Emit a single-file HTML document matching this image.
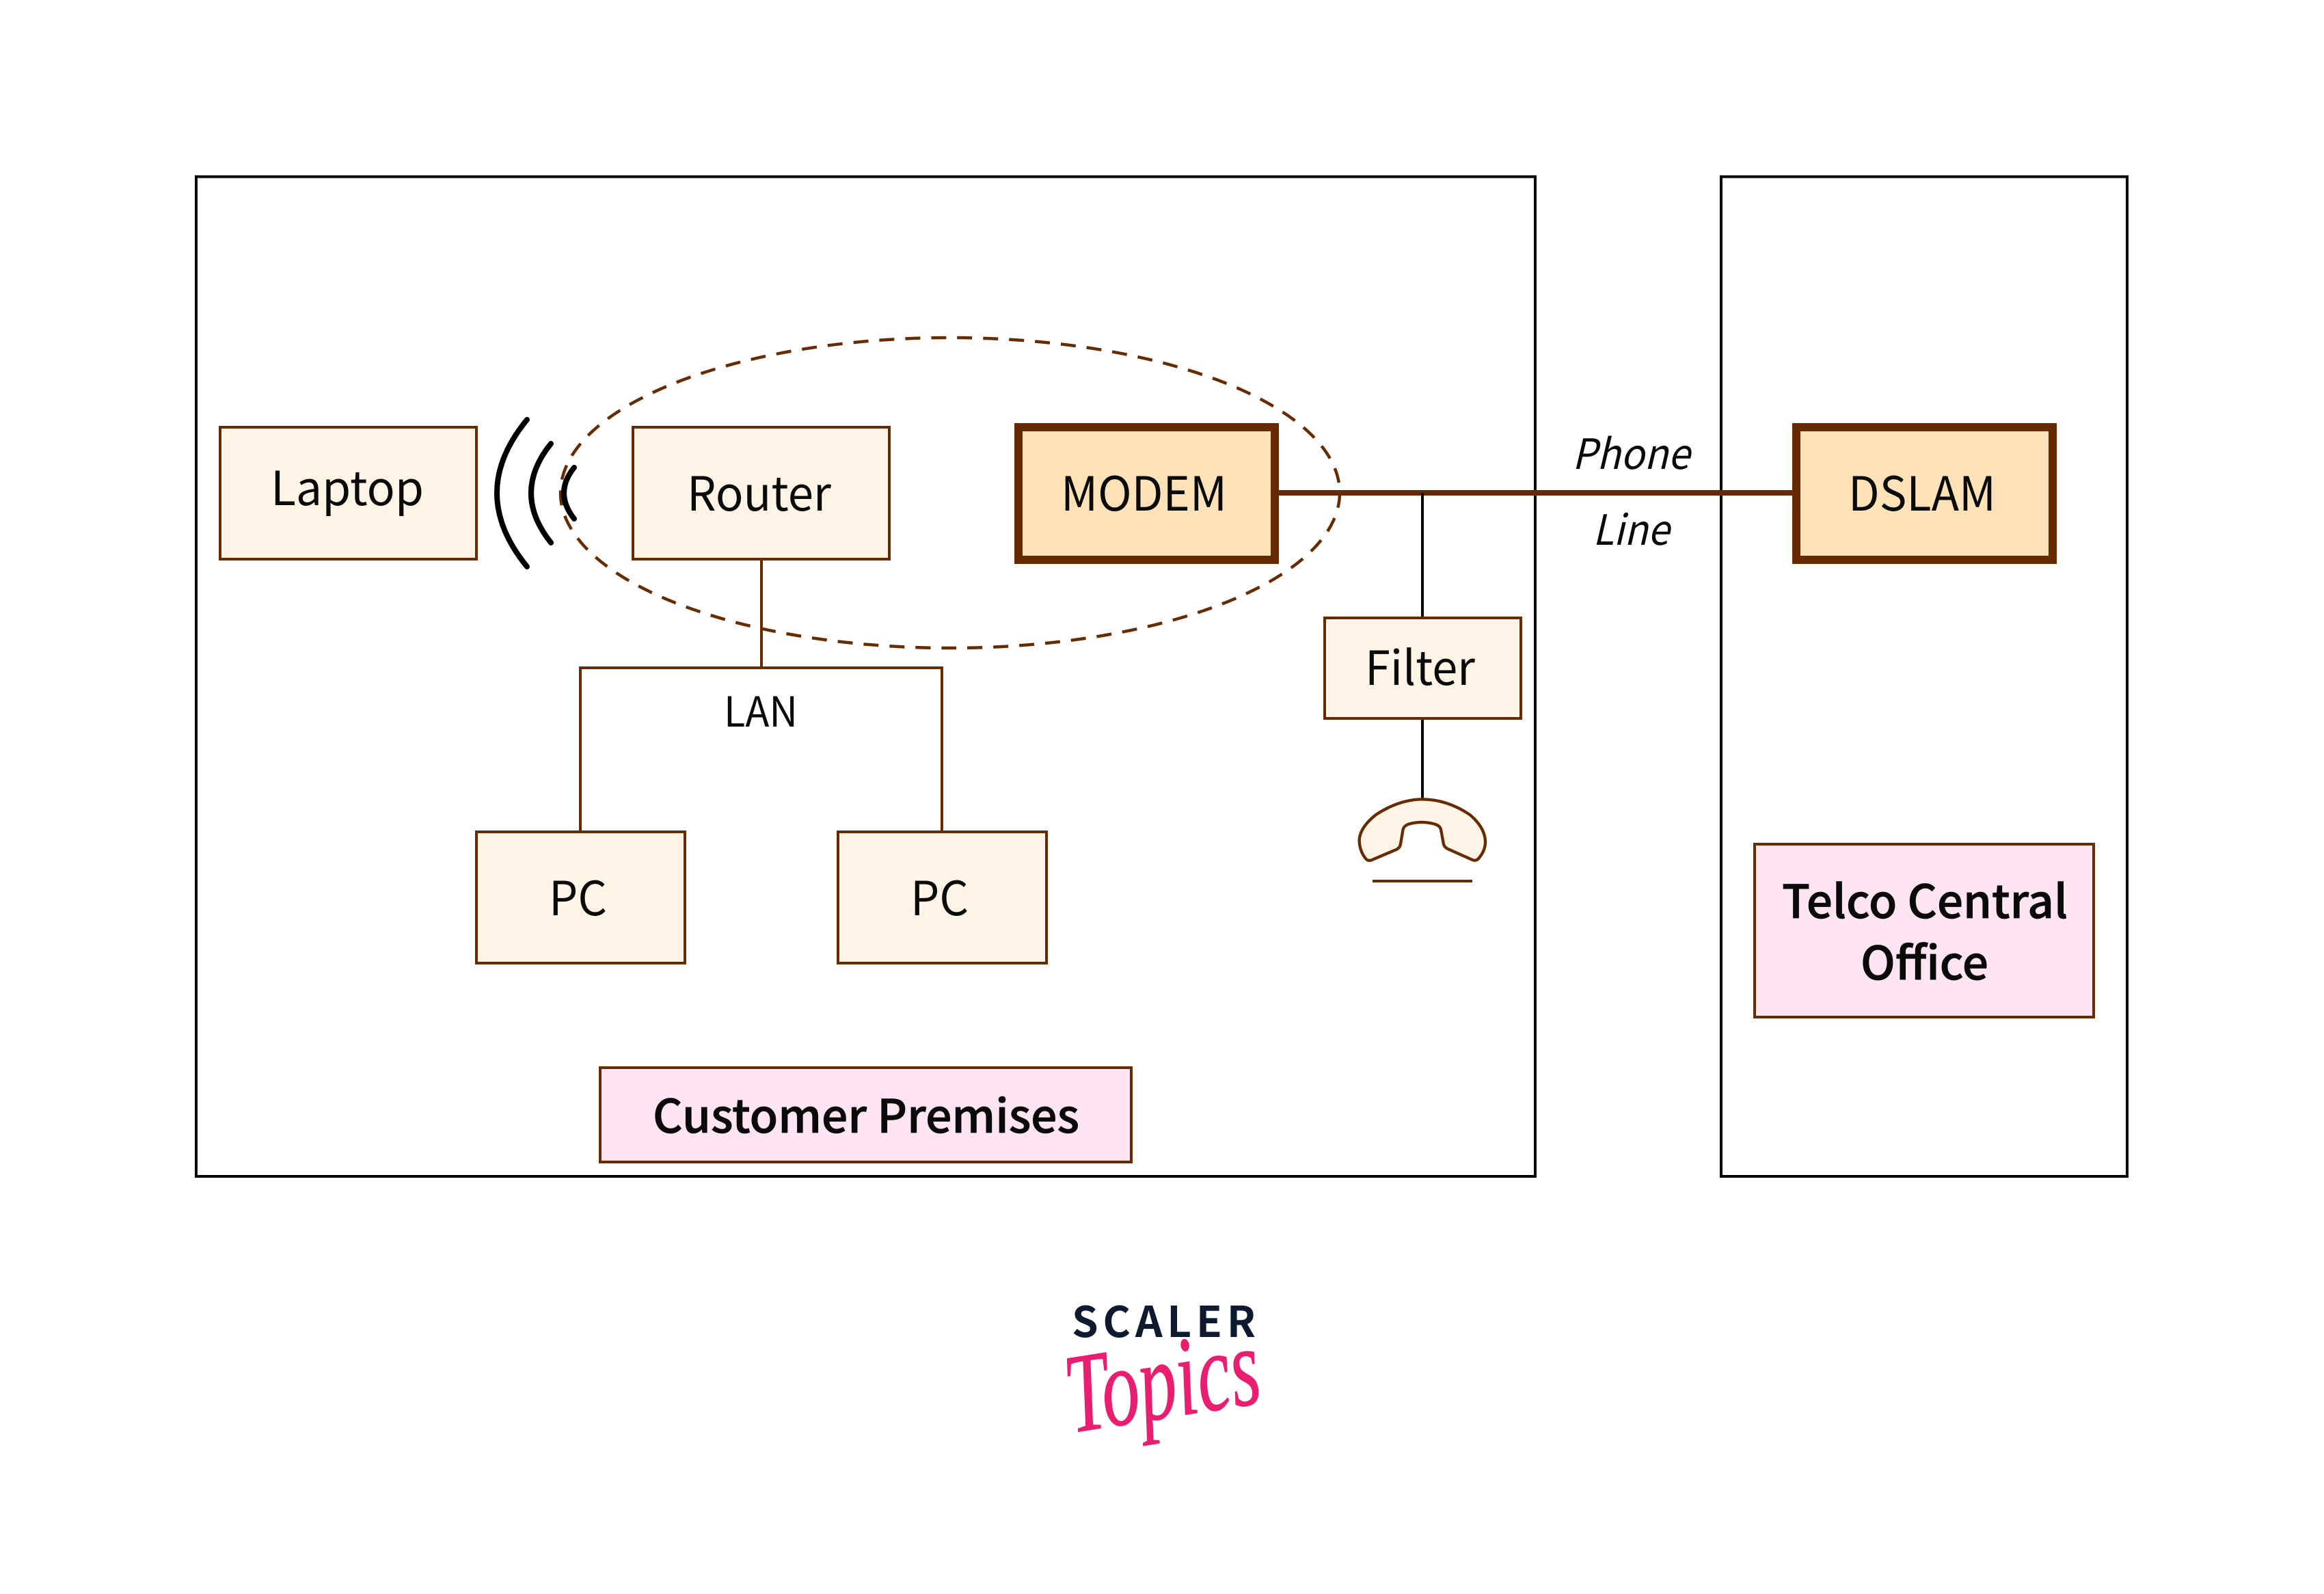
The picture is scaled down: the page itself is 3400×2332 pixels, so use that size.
<!DOCTYPE html>
<html><head><meta charset="utf-8"><style>
html,body{margin:0;padding:0;background:#fff}
svg{display:block}
text{font-family:"Liberation Sans","Noto Sans CJK JP",sans-serif}
.n{font-family:"Noto Sans CJK JP","Liberation Sans",sans-serif;font-size:69px;fill:#0a0a0a}
.b{font-family:"Noto Sans CJK JP","Liberation Sans",sans-serif;font-size:67px;font-weight:500;fill:#0a0a0a;stroke:#0a0a0a;stroke-width:.8px}
.i{font-family:"Noto Sans CJK JP","Liberation Sans",sans-serif;font-size:61px;font-style:italic;fill:#0a0a0a}
</style></head><body>
<svg xmlns="http://www.w3.org/2000/svg" width="3400" height="2332" viewBox="0 0 3400 2332">
<rect width="3400" height="2332" fill="#fff"/>
<rect x="287" y="258.500" width="1959" height="1462.500" fill="none" stroke="#000" stroke-width="4"/>
<rect x="2518" y="258.500" width="594" height="1462.500" fill="none" stroke="#000" stroke-width="4"/>

<ellipse cx="1390" cy="721" rx="570" ry="227" fill="none" stroke="#662c00" stroke-width="4.500" stroke-dasharray="22 16"/>

<g fill="none" stroke="#662c00" stroke-width="4">
<path d="M1114 820V975"/>
<path d="M849 1216V977H1378V1216"/>
</g>
<path d="M1869 721H2622" stroke="#662900" stroke-width="8" fill="none"/>
<path d="M2081 721V902M2081 1053V1168" stroke="#000" stroke-width="4" fill="none"/>

<g fill="#fff4e5" stroke="#662c00" stroke-width="4">
<rect x="322" y="625" width="375" height="193"/>
<rect x="926" y="625" width="375" height="193"/>
<rect x="697" y="1217" width="305" height="192"/>
<rect x="1226" y="1217" width="305" height="192"/>
<rect x="1938" y="904" width="287" height="147"/>
</g>
<g fill="#ffe2b7" stroke="#662900" stroke-width="12">
<rect x="1490" y="625" width="375" height="194"/>
<rect x="2628" y="625" width="375" height="194"/>
</g>
<g fill="#ffe5f1" stroke="#662c00" stroke-width="4">
<rect x="878" y="1562" width="777" height="138"/>
<rect x="2567" y="1235" width="496" height="253"/>
</g>

<g fill="none" stroke="#000" stroke-width="8" stroke-linecap="round">
<path d="M771 614Q683 721 771 829"/>
<path d="M806 649Q748 721 806 794"/>
<path d="M840 684Q810 721 840 759"/>
</g>

<g transform="translate(1900 880) scale(.3333)">
<path d="M320 1135L430 1088Q445 1080 447 1065L458 1000Q462 985 480 978Q540 960 600 978Q620 985 624 1000L636 1065Q640 1080 655 1086L765 1135Q780 1140 792 1125Q825 1085 818 1040Q810 985 750 935Q650 868 540 868Q440 870 340 935Q270 990 266 1045Q266 1095 295 1130Q305 1140 320 1135Z" fill="#fff4e5" stroke="#662c00" stroke-width="13"/>
</g>
<path d="M2008 1289H2154" stroke="#662c00" stroke-width="4"/>

<text class="n" x="396" y="739" textLength="224" lengthAdjust="spacingAndGlyphs">Laptop</text>
<text class="n" x="1005" y="747" textLength="211" lengthAdjust="spacingAndGlyphs">Router</text>
<text class="n" x="1552" y="747" textLength="243" lengthAdjust="spacingAndGlyphs">MODEM</text>
<text class="n" x="2704" y="747" textLength="216" lengthAdjust="spacingAndGlyphs">DSLAM</text>
<text class="n" x="1997" y="1002" textLength="161" lengthAdjust="spacingAndGlyphs">Filter</text>
<text class="n" x="803" y="1339" textLength="85" lengthAdjust="spacingAndGlyphs">PC</text>
<text class="n" x="1332" y="1339" textLength="85" lengthAdjust="spacingAndGlyphs">PC</text>
<text class="n" x="1059" y="1063" style="font-size:61px" textLength="108" lengthAdjust="spacingAndGlyphs">LAN</text>
<text class="i" x="2300" y="686" textLength="172" lengthAdjust="spacingAndGlyphs">Phone</text>
<text class="i" x="2330" y="797" textLength="112" lengthAdjust="spacingAndGlyphs">Line</text>
<text class="b" x="955" y="1657" textLength="624" lengthAdjust="spacingAndGlyphs">Customer Premises</text>
<text class="b" x="2607" y="1343" textLength="418" lengthAdjust="spacingAndGlyphs">Telco Central</text>
<text class="b" x="2722" y="1433" textLength="187" lengthAdjust="spacingAndGlyphs">Office</text>

<text x="1568" y="1956" textLength="269" lengthAdjust="spacing" style="font-family:'Noto Sans CJK JP','Liberation Sans',sans-serif;font-weight:700;font-size:62px;fill:#0e1a2f">SCALER</text>
<text transform="rotate(-9 1568 2096)" x="1568" y="2096" textLength="285" lengthAdjust="spacingAndGlyphs" style="font-family:'Liberation Serif',serif;font-style:italic;font-size:165px;fill:#e91e70;stroke:#e91e70;stroke-width:1px">Topics</text>
</svg>
</body></html>
